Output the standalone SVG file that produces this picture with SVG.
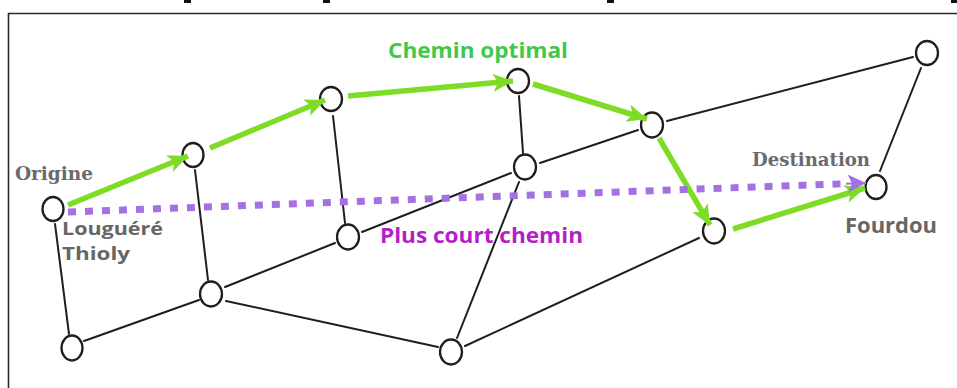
<svg xmlns="http://www.w3.org/2000/svg" width="957" height="388" viewBox="0 0 957 388">
  <style>
    .node ellipse { fill: #ffffff; stroke: #1e1e1e; stroke-width: 2.3; }
    .edge { stroke: #1e1e1e; stroke-width: 2; fill: none; stroke-linecap: round; }
    .opt { stroke: #7fdc26; stroke-width: 5.5; fill: none; }
    .short { stroke: #a571e2; stroke-width: 7; fill: none; stroke-dasharray: 8 9; }
    .serif { font-family: "DejaVu Serif", "Liberation Serif", serif; font-weight: bold; font-size: 18.5px; fill: #6a6a6a; }
    .sans { font-family: "Open Sans", "Liberation Sans", sans-serif; font-weight: bold; font-size: 21px; }
    .place { fill: #666666; }
    .stacked { font-size: 18px; }
  </style>
  <defs>
    <marker id="head-green" markerUnits="userSpaceOnUse" markerWidth="24" markerHeight="20" refX="20" refY="9" orient="auto">
      <path d="M0,0 L20,9 L0,18 L5,9 Z" fill="#7fdc26"/>
    </marker>
    <marker id="head-purple" markerUnits="userSpaceOnUse" markerWidth="24" markerHeight="20" refX="18" refY="9" orient="auto">
      <path d="M0,0 L18,9 L0,18 L4,9 Z" fill="#a571e2"/>
    </marker>
  </defs>

  <rect x="0" y="0" width="957" height="388" fill="#ffffff"/>

  <!-- frame and clipped heading strokes -->
  <g id="frame">
    <path d="M8.5,388 L8.5,13.5 L957,13.5" fill="none" stroke="#2a2a2a" stroke-width="1.6"/>
    <rect x="184" y="0" width="7" height="3" fill="#111"/>
    <rect x="323" y="0" width="7" height="3" fill="#111"/>
    <rect x="607" y="0" width="7" height="3" fill="#111"/>
    <rect x="951" y="0" width="6" height="3" fill="#111"/>
  </g>

  <!-- network nodes -->
  <g id="n-origine" class="node"><ellipse cx="53" cy="209" rx="10.5" ry="12"/></g>
  <g id="n-b" class="node"><ellipse cx="193" cy="155" rx="10.5" ry="12"/></g>
  <g id="n-c" class="node"><ellipse cx="331" cy="99" rx="11" ry="12"/></g>
  <g id="n-d" class="node"><ellipse cx="518" cy="81" rx="11" ry="12"/></g>
  <g id="n-e" class="node"><ellipse cx="652" cy="125" rx="11" ry="12.5"/></g>
  <g id="n-f" class="node"><ellipse cx="927" cy="53" rx="11" ry="12"/></g>
  <g id="n-g" class="node"><ellipse cx="525" cy="167" rx="11" ry="12.5"/></g>
  <g id="n-h" class="node"><ellipse cx="348" cy="237" rx="11" ry="12.5"/></g>
  <g id="n-i" class="node"><ellipse cx="211" cy="294" rx="11" ry="12.5"/></g>
  <g id="n-j" class="node"><ellipse cx="72" cy="348" rx="10.5" ry="12.5"/></g>
  <g id="n-k" class="node"><ellipse cx="451" cy="352" rx="11" ry="12.5"/></g>
  <g id="n-l" class="node"><ellipse cx="714" cy="231" rx="11" ry="12.5"/></g>
  <g id="n-fourdou" class="node"><ellipse cx="876" cy="187" rx="10.5" ry="12"/></g>

  <!-- connectors -->
  <g id="connectors">
    <line class="edge" x1="55" y1="224" x2="69" y2="334"/>
    <line class="edge" x1="84" y1="341" x2="199" y2="300"/>
    <line class="edge" x1="225" y1="287" x2="335" y2="243"/>
    <line class="edge" x1="226" y1="301" x2="438" y2="347"/>
    <line class="edge" x1="195" y1="170" x2="208" y2="280"/>
    <line class="edge" x1="362" y1="232" x2="511" y2="173"/>
    <line class="edge" x1="540" y1="163" x2="638" y2="130"/>
    <line class="edge" x1="667" y1="121" x2="913" y2="57"/>
    <line class="edge" x1="333" y1="116" x2="345" y2="223"/>
    <line class="edge" x1="519" y1="96" x2="523" y2="153"/>
    <line class="edge" x1="519" y1="182" x2="457" y2="338"/>
    <line class="edge" x1="465" y1="346" x2="699" y2="238"/>
    <line class="edge" x1="921" y1="68" x2="880" y2="171"/>

    <!-- optimal route -->
    <line class="opt" x1="68" y1="205" x2="188" y2="156" marker-end="url(#head-green)"/>
    <line class="opt" x1="210" y1="148" x2="325" y2="100" marker-end="url(#head-green)"/>
    <line class="opt" x1="348" y1="96" x2="513" y2="81" marker-end="url(#head-green)"/>
    <line class="opt" x1="533" y1="84" x2="647" y2="119" marker-end="url(#head-green)"/>
    <line class="opt" x1="659" y1="138" x2="710" y2="225" marker-end="url(#head-green)"/>
    <line class="opt" x1="733" y1="229" x2="865" y2="188" marker-end="url(#head-green)"/>

    <!-- shortest route -->
    <line class="short" x1="68" y1="212" x2="848" y2="183.6"/>
    <line x1="846" y1="183.7" x2="866" y2="183" stroke="#a571e2" stroke-width="2" marker-end="url(#head-purple)"/>
  </g>

  <!-- labels -->
  <g id="labels">
    <text class="serif" x="15" y="180" textLength="78" lengthAdjust="spacingAndGlyphs">Origine</text>
    <text class="serif" x="752" y="166" textLength="118" lengthAdjust="spacingAndGlyphs">Destination</text>
    <text class="sans place stacked" x="62" y="235" textLength="101" lengthAdjust="spacingAndGlyphs">Louguéré</text>
    <text class="sans place stacked" x="62" y="260" textLength="68" lengthAdjust="spacingAndGlyphs">Thioly</text>
    <text class="sans place" x="845" y="233" textLength="92" lengthAdjust="spacingAndGlyphs">Fourdou</text>
    <text class="sans" x="388" y="58" fill="#3fc84c" textLength="180" lengthAdjust="spacingAndGlyphs">Chemin optimal</text>
    <text class="sans" x="380" y="243" fill="#b41ec8" textLength="203" lengthAdjust="spacingAndGlyphs">Plus court chemin</text>
  </g>
</svg>
